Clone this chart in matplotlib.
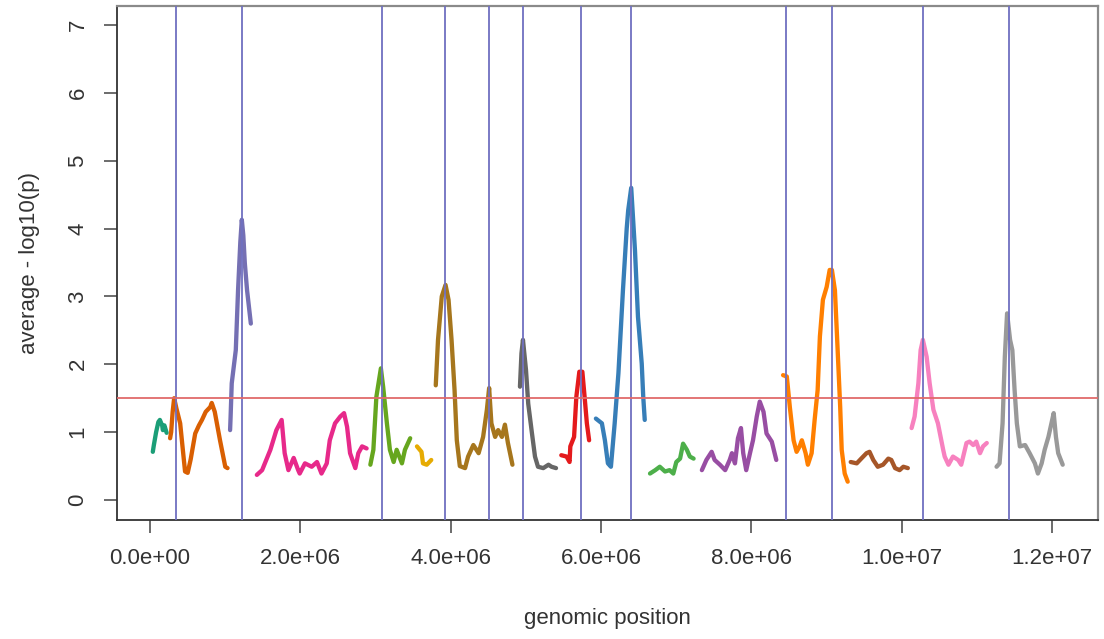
import matplotlib
matplotlib.use("Agg")
import matplotlib.pyplot as plt
import numpy as np
from matplotlib.ticker import FuncFormatter

plt.rcParams['font.family'] = ['Liberation Sans', 'DejaVu Sans']

# sliding-window averages of -log10(p), one run per chromosome (positions in Mb)
pos_1 = [0.036, 0.05, 0.08, 0.11, 0.13, 0.16, 0.17, 0.19, 0.22]
val_1 = [0.71, 0.81, 1.00, 1.15, 1.18, 1.10, 1.03, 1.10, 0.99]

pos_2 = [0.266, 0.28, 0.30, 0.32, 0.35, 0.40, 0.43, 0.465, 0.50, 0.54, 0.60, 0.65, 0.69, 0.74, 0.80, 0.82, 0.86, 0.93, 1.00, 1.03]
val_2 = [0.91, 1.00, 1.30, 1.50, 1.35, 1.13, 0.80, 0.42, 0.40, 0.60, 0.98, 1.10, 1.18, 1.30, 1.37, 1.43, 1.30, 0.88, 0.49, 0.47]

pos_3 = [1.064, 1.07, 1.086, 1.14, 1.17, 1.20, 1.22, 1.24, 1.26, 1.29, 1.34]
val_3 = [1.03, 1.20, 1.72, 2.21, 3.09, 3.80, 4.13, 3.90, 3.49, 3.09, 2.60]

pos_4 = [1.42, 1.49, 1.60, 1.68, 1.75, 1.79, 1.84, 1.91, 1.97, 1.99, 2.06, 2.15, 2.22, 2.28, 2.35, 2.39,
         2.46, 2.53, 2.58, 2.62, 2.66, 2.73, 2.77, 2.82, 2.88]
val_4 = [0.37, 0.44, 0.74, 1.03, 1.18, 0.69, 0.44, 0.62, 0.44, 0.39, 0.54, 0.49, 0.56, 0.39, 0.54, 0.88,
         1.13, 1.23, 1.28, 1.08, 0.69, 0.47, 0.69, 0.79, 0.76]

pos_5 = [2.93, 2.97, 3.01, 3.07, 3.10, 3.15, 3.19, 3.24, 3.28, 3.35, 3.39, 3.46]
val_5 = [0.52, 0.74, 1.52, 1.94, 1.67, 1.13, 0.74, 0.56, 0.74, 0.54, 0.74, 0.91]

pos_6 = [3.55, 3.61, 3.63, 3.68, 3.74]
val_6 = [0.79, 0.71, 0.54, 0.52, 0.59]

pos_7 = [3.80, 3.83, 3.88, 3.93, 3.97, 4.01, 4.05, 4.08, 4.12, 4.19, 4.23, 4.30, 4.37, 4.43, 4.48, 4.51,
         4.54, 4.59, 4.63, 4.68, 4.72, 4.76, 4.82]
val_7 = [1.69, 2.36, 3.00, 3.17, 2.95, 2.36, 1.62, 0.88, 0.50, 0.47, 0.64, 0.81, 0.69, 0.93, 1.33, 1.65,
         1.13, 0.93, 1.03, 0.93, 1.11, 0.84, 0.52]

pos_8 = [4.92, 4.94, 4.96, 5.00, 5.03, 5.08, 5.12, 5.16, 5.23, 5.30, 5.34, 5.40]
val_8 = [1.67, 2.16, 2.36, 1.92, 1.42, 0.98, 0.64, 0.49, 0.47, 0.52, 0.49, 0.47]

pos_9 = [5.47, 5.54, 5.58, 5.59, 5.64, 5.67, 5.71, 5.75, 5.78, 5.81, 5.84]
val_9 = [0.66, 0.64, 0.56, 0.79, 0.93, 1.52, 1.89, 1.89, 1.52, 1.13, 0.88]

pos_10 = [5.93, 6.01, 6.05, 6.09, 6.13, 6.18, 6.23, 6.29, 6.34, 6.36, 6.40, 6.45, 6.49, 6.54, 6.56, 6.58]
val_10 = [1.20, 1.13, 0.88, 0.54, 0.49, 1.13, 1.87, 3.09, 4.00, 4.27, 4.60, 3.68, 2.70, 2.01, 1.52, 1.18]

pos_11 = [6.65, 6.72, 6.78, 6.85, 6.91, 6.96, 7.00, 7.05, 7.09, 7.14, 7.18, 7.23]
val_11 = [0.39, 0.44, 0.49, 0.42, 0.44, 0.39, 0.56, 0.61, 0.83, 0.74, 0.64, 0.61]

pos_12 = [7.34, 7.40, 7.47, 7.51, 7.58, 7.65, 7.71, 7.74, 7.78, 7.82, 7.86, 7.89, 7.93, 7.98, 8.02,
          8.07, 8.11, 8.16, 8.20, 8.27, 8.33]
val_12 = [0.44, 0.59, 0.71, 0.59, 0.52, 0.44, 0.59, 0.69, 0.54, 0.91, 1.06, 0.69, 0.44, 0.69, 0.88,
          1.23, 1.45, 1.30, 0.98, 0.86, 0.59]

pos_13 = [8.42, 8.47, 8.51, 8.56, 8.60, 8.64, 8.67, 8.72, 8.75, 8.80, 8.84, 8.88, 8.91, 8.95, 9.00,
          9.04, 9.07, 9.11, 9.14, 9.18, 9.20, 9.24, 9.28]
val_13 = [1.84, 1.82, 1.37, 0.88, 0.71, 0.79, 0.88, 0.69, 0.52, 0.69, 1.18, 1.62, 2.41, 2.95, 3.14,
          3.39, 3.39, 3.09, 2.36, 1.37, 0.74, 0.39, 0.27]

pos_14 = [9.32, 9.40, 9.46, 9.53, 9.57, 9.62, 9.68, 9.75, 9.82, 9.86, 9.91, 9.97, 10.02, 10.08]
val_14 = [0.56, 0.54, 0.61, 0.69, 0.71, 0.59, 0.49, 0.52, 0.61, 0.59, 0.47, 0.44, 0.49, 0.47]

pos_15 = [10.13, 10.17, 10.22, 10.25, 10.28, 10.33, 10.37, 10.42, 10.48, 10.55, 10.57, 10.62, 10.68,
          10.75, 10.79, 10.86, 10.90, 10.95, 10.99, 11.04, 11.08, 11.13]
val_15 = [1.06, 1.23, 1.72, 2.21, 2.36, 2.11, 1.72, 1.33, 1.13, 0.74, 0.64, 0.52, 0.64,
          0.59, 0.52, 0.84, 0.86, 0.81, 0.86, 0.69, 0.79, 0.84]

pos_16 = [11.26, 11.30, 11.34, 11.37, 11.40, 11.44, 11.47, 11.50, 11.53, 11.57, 11.64, 11.70, 11.77,
          11.81, 11.86, 11.90, 11.95, 11.99, 12.02, 12.05, 12.08, 12.14]
val_16 = [0.49, 0.54, 1.13, 2.11, 2.75, 2.36, 2.21, 1.62, 1.13, 0.79, 0.81, 0.69, 0.54,
          0.39, 0.54, 0.74, 0.93, 1.13, 1.28, 0.93, 0.69, 0.52]

# Dark2 followed by Set1 (no yellow)
chrom_colors = ['#1B9E77', '#D95F02', '#7570B3', '#E7298A', '#66A61E', '#E6AB02', '#A6761D', '#666666',
                '#E41A1C', '#377EB8', '#4DAF4A', '#984EA3', '#FF7F00', '#A65628', '#F781BF', '#999999']

# top windows marked with vertical lines (Mb)
peak_pos = [0.342, 1.227, 3.081, 3.923, 4.504, 4.960, 5.731, 6.392, 8.457, 9.069, 10.275, 11.427]
threshold = 1.5

segments = [(pos_1, val_1), (pos_2, val_2), (pos_3, val_3), (pos_4, val_4),
            (pos_5, val_5), (pos_6, val_6), (pos_7, val_7), (pos_8, val_8),
            (pos_9, val_9), (pos_10, val_10), (pos_11, val_11), (pos_12, val_12),
            (pos_13, val_13), (pos_14, val_14), (pos_15, val_15), (pos_16, val_16)]

fig = plt.figure(figsize=(11.04, 6.39), dpi=100)
ax = fig.add_axes([0.106, 0.1862, 0.8886, 0.8044])

for (p, v), c in zip(segments, chrom_colors):
    ax.plot(np.array(p) * 1e6, v, color=c, lw=3.1, solid_capstyle='round', solid_joinstyle='round', zorder=2)

for p in peak_pos:
    ax.axvline(p * 1e6, color='#7070c0', lw=1.3, zorder=3)
ax.axhline(threshold, color='#e06a6a', lw=1.3, zorder=3)

ax.set_xlim(-0.44e6, 12.61e6)
ax.set_ylim(-0.295, 7.28)
ax.set_xticks(np.arange(0, 12.1e6, 2e6))
ax.set_yticks(range(0, 8))
ax.xaxis.set_major_formatter(FuncFormatter(lambda v, _: f"{v:.1e}"))

ax.tick_params(axis='both', length=9.5, width=1.1, color='#444444', labelsize=16, labelcolor='#333333')
ax.tick_params(axis='x', pad=11)
ax.tick_params(axis='y', pad=11, labelrotation=90)
for lbl in ax.get_yticklabels():
    lbl.set_va('center')

for side in ['left', 'bottom']:
    ax.spines[side].set_color('#333333')
    ax.spines[side].set_linewidth(1.3)
for side in ['top', 'right']:
    ax.spines[side].set_color('#8a8a8a')
    ax.spines[side].set_linewidth(1.6)

ax.set_xlabel('genomic position', fontsize=16, color='#333333', labelpad=28)
ax.set_ylabel('average - log10(p)', fontsize=16, color='#333333', labelpad=20)

fig.savefig('out.png', dpi=100, facecolor='white')
